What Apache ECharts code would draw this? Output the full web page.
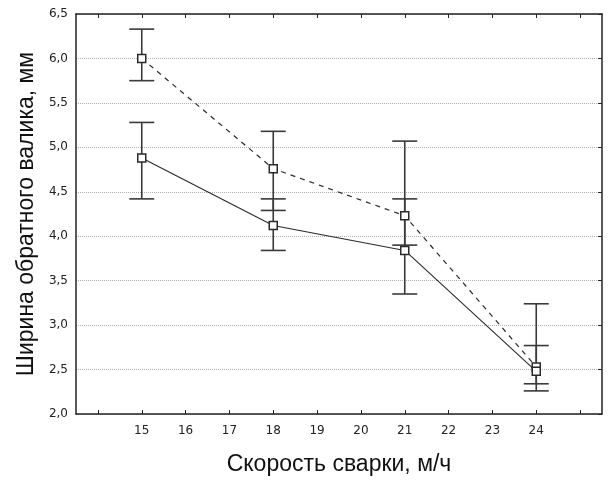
<!DOCTYPE html>
<html><head><meta charset="utf-8">
<script src="https://cdn.jsdelivr.net/npm/echarts@6/dist/echarts.min.js"></script>
<style>html,body{margin:0;padding:0;background:#fff}#c{width:610px;height:483px}</style>
</head><body><div id="c"></div>
<script>
var speeds = [15, 18, 21, 24];
var meanDashed = [6.00, 4.76, 4.23, 2.53];
var lowDashed  = [5.75, 4.29, 3.90, 2.34];
var highDashed = [6.33, 5.18, 5.07, 3.24];
var meanSolid  = [4.88, 4.12, 3.84, 2.48];
var lowSolid   = [4.42, 3.84, 3.35, 2.26];
var highSolid  = [5.28, 4.42, 4.42, 2.77];
var xTicks  = [14, 15, 16, 17, 18, 19, 20, 21, 22, 23, 24, 25];
var xLabels = [15, 16, 17, 18, 19, 20, 21, 22, 23, 24];
var xTitle = 'Скорость сварки, м/ч';
var yTitle = 'Ширина обратного валика, мм';

var INK = '#2a2a2a';
function pts(m){ return speeds.map(function(x,i){ return [x, m[i]]; }); }
function errs(lo, hi){ return speeds.map(function(x,i){ return [x, lo[i], hi[i]]; }); }
function errRender(params, api){
  var x = api.value(0);
  var a = api.coord([x, api.value(1)]);
  var b = api.coord([x, api.value(2)]);
  var hw = 12.5;
  var st = {stroke: '#3a3a3a', lineWidth: 1.6};
  return {type:'group', children:[
    {type:'line', shape:{x1:a[0], y1:a[1], x2:b[0], y2:b[1]}, style:st},
    {type:'line', shape:{x1:a[0]-hw, y1:a[1], x2:a[0]+hw, y2:a[1]}, style:st},
    {type:'line', shape:{x1:b[0]-hw, y1:b[1], x2:b[0]+hw, y2:b[1]}, style:st}
  ]};
}
var font = 'Liberation Sans, Arial, sans-serif';
var tickFont = 'DejaVu Sans, sans-serif';
var chart = echarts.init(document.getElementById('c'), null, {renderer:'canvas'});
chart.setOption({
  animation:false,
  backgroundColor:'#fff',
  grid:{left:76, right:8, top:14, bottom:69, containLabel:false},
  xAxis:[{
    type:'value', min:13.5, max:25.5, position:'bottom',
    name:xTitle, nameLocation:'middle', nameGap:39,
    nameTextStyle:{fontFamily:font, fontSize:23, color:'#111'},
    axisLine:{show:true, lineStyle:{color:'#222', width:1.5}},
    axisTick:{show:true, inside:true, length:4, customValues:xTicks, lineStyle:{color:'#222'}},
    axisLabel:{show:true, customValues:xLabels, margin:11, fontFamily:tickFont, fontSize:12, color:'#222'},
    splitLine:{show:false}
  },{
    type:'value', min:13.5, max:25.5, position:'top',
    axisLine:{show:true, lineStyle:{color:'#222', width:1.5}},
    axisTick:{show:true, inside:true, length:4, customValues:xTicks, lineStyle:{color:'#222'}},
    axisLabel:{show:false}, splitLine:{show:false}
  }],
  yAxis:[{
    type:'value', min:2, max:6.5, interval:0.5, position:'left',
    name:yTitle, nameLocation:'middle', nameGap:37,
    nameTextStyle:{fontFamily:font, fontSize:23, color:'#111'},
    axisLine:{show:true, lineStyle:{color:'#222', width:1.5}},
    axisTick:{show:false},
    axisLabel:{margin:8, fontFamily:tickFont, fontSize:12, color:'#222',
      formatter:function(v){ return v.toFixed(1).replace('.', ','); }},
    splitLine:{show:true, lineStyle:{type:'dotted', color:'#b0b0b0', width:1}}
  },{
    type:'value', min:2, max:6.5, interval:0.5, position:'right',
    axisLine:{show:true, lineStyle:{color:'#222', width:1.5}},
    axisTick:{show:true, inside:true, length:4, lineStyle:{color:'#222'}},
    axisLabel:{show:false}, splitLine:{show:false}
  }],
  series:[
    {type:'custom', renderItem:errRender, data:errs(lowDashed, highDashed), z:2},
    {type:'custom', renderItem:errRender, data:errs(lowSolid, highSolid), z:2},
    {type:'line', data:pts(meanDashed), symbol:'rect', symbolSize:8,
      lineStyle:{color:INK, width:1.2, type:[5,5]},
      itemStyle:{color:'#fff', borderColor:INK, borderWidth:1.5}, z:3},
    {type:'line', data:pts(meanSolid), symbol:'rect', symbolSize:8,
      lineStyle:{color:INK, width:1.1},
      itemStyle:{color:'#fff', borderColor:INK, borderWidth:1.5}, z:3}
  ]
});
</script></body></html>
